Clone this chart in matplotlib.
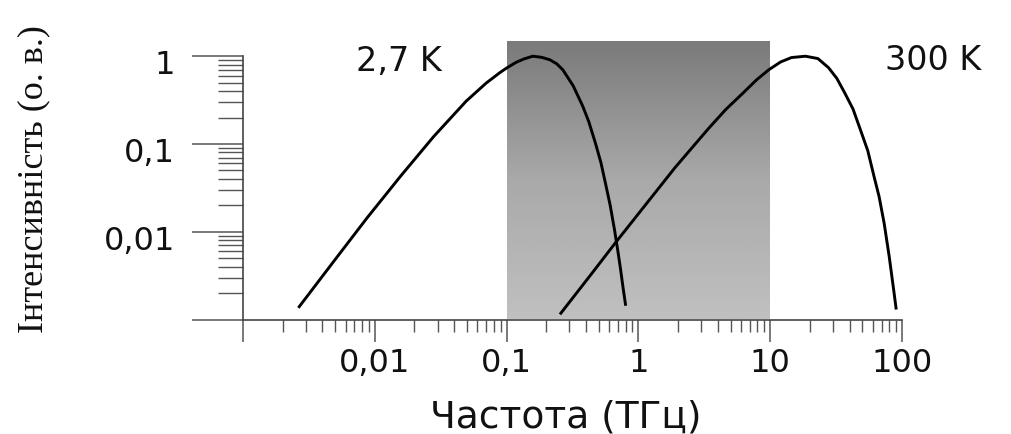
import numpy as np
import matplotlib
matplotlib.use("Agg")
import matplotlib.pyplot as plt
from matplotlib.colors import LinearSegmentedColormap
from matplotlib.transforms import ScaledTranslation
from matplotlib.ticker import FixedLocator, FixedFormatter, LogLocator, NullFormatter

# ---------- дані ----------
# крива 2,7 K: частота (ТГц) та відносна інтенсивність
freq_27 = [0.00267, 0.00491, 0.00871, 0.0157, 0.0279, 0.0494, 0.07, 0.0893, 0.10,
           0.118, 0.135, 0.158, 0.185, 0.213, 0.24, 0.267, 0.32, 0.378, 0.42,
           0.474, 0.52, 0.564, 0.61, 0.659, 0.70, 0.731, 0.765, 0.798]
int_27 = [0.0014, 0.00465, 0.0143, 0.043, 0.121, 0.308, 0.494, 0.653, 0.733,
          0.851, 0.929, 1.0, 0.97, 0.91, 0.82, 0.70, 0.46, 0.27, 0.18,
          0.10, 0.061, 0.035, 0.0202, 0.0105, 0.0059, 0.0038, 0.0023, 0.00149]

# крива 300 K
freq_300 = [0.258, 0.45, 0.67, 1.07, 1.9, 3.43, 4.6, 6.1, 7.9, 9.75, 12.0, 14.5,
            18.5, 23.0, 27.7, 32.0, 36.5, 42.5, 49.1, 55.0, 61.5, 67.0, 73.2,
            80.0, 87.1, 90.1]
int_300 = [0.00118, 0.00345, 0.0075, 0.0182, 0.054, 0.152, 0.247, 0.37, 0.54,
           0.70, 0.86, 0.965, 1.0, 0.94, 0.74, 0.56, 0.39, 0.25, 0.136, 0.0838,
           0.042, 0.0252, 0.0125, 0.0052, 0.0020, 0.00135]

# затінена смуга (ТГц)
band = [0.1, 10]

x_ticks = [0.001, 0.01, 0.1, 1, 10, 100]
x_labels = ["", "0,01", "0,1", "1", "10", "100"]
y_ticks = [0.001, 0.01, 0.1, 1]
y_labels = ["", "0,01", "0,1", "1"]

# ---------- рисунок ----------
fig = plt.figure(figsize=(10.12, 4.35), dpi=100)
ax = fig.add_axes([243 / 1012, 1 - 320.5 / 435, (902 - 243) / 1012, (320.5 - 42) / 435])

ax.set_xscale("log")
ax.set_yscale("log")

# градієнтна смуга
grad = np.linspace(0, 1, 256).reshape(-1, 1)
cmap = LinearSegmentedColormap.from_list("band", ["#7a7a7a", "#a9a9a9", "#c0c0c0"])
ax.imshow(grad, cmap=cmap, extent=(band[0], band[1], 0, 1), origin="upper",
          transform=ax.get_xaxis_transform(), aspect="auto", zorder=0,
          interpolation="bilinear")

ax.plot(freq_27, int_27, color="black", lw=2.1, zorder=3, solid_joinstyle="round")
ax.plot(freq_300, int_300, color="black", lw=2.1, zorder=3, solid_joinstyle="round")

ax.set_xlim(0.001, 100)
ax.set_ylim(0.001, 1.49)

for s in ["top", "right"]:
    ax.spines[s].set_visible(False)
ax.spines["left"].set_bounds(0.001, 1)
for s in ["left", "bottom"]:
    ax.spines[s].set_color("#444444")
    ax.spines[s].set_linewidth(1.2)

ax.xaxis.set_major_locator(FixedLocator(x_ticks))
ax.xaxis.set_major_formatter(FixedFormatter(x_labels))
ax.xaxis.set_minor_locator(LogLocator(base=10, subs=np.arange(2, 10), numticks=20))
ax.xaxis.set_minor_formatter(NullFormatter())
ax.yaxis.set_major_locator(FixedLocator(y_ticks))
ax.yaxis.set_major_formatter(FixedFormatter(y_labels))
ax.yaxis.set_minor_locator(LogLocator(base=10, subs=np.arange(2, 10), numticks=20))
ax.yaxis.set_minor_formatter(NullFormatter())

ax.tick_params(axis="x", which="major", direction="out", length=16, width=1.1,
               color="#555555", pad=4, labelsize=23, labelcolor="#111111")
ax.tick_params(axis="x", which="minor", direction="out", length=8.5, width=1.0,
               color="#555555")
ax.tick_params(axis="y", which="major", direction="out", length=37, width=1.1,
               color="#555555", pad=12, labelsize=23, labelcolor="#111111")
ax.tick_params(axis="y", which="minor", direction="out", length=18, width=1.0,
               color="#555555")

# підписи на осі y трохи нижче за штрихи
shift = ScaledTranslation(0, -5 / 100, fig.dpi_scale_trans)
for lab in ax.get_yticklabels():
    lab.set_transform(lab.get_transform() + shift)

# підписи кривих
ax.text(0.0152, 0.885, "2,7 K", fontsize=24, ha="center", va="center", color="#111111")
ax.text(171, 0.91, "300 K", fontsize=24, ha="center", va="center", color="#111111")

# підписи осей
fig.text(566 / 1012, 1 - 418 / 435, "Частота (ТГц)", fontsize=27,
         ha="center", va="center", color="#111111")
fig.text(34 / 1012, 1 - 179 / 435, "Інтенсивність (о. в.)", fontsize=26,
         family="Liberation Serif", rotation=90, ha="center", va="center",
         color="#111111")

fig.savefig("out.png", dpi=100)
